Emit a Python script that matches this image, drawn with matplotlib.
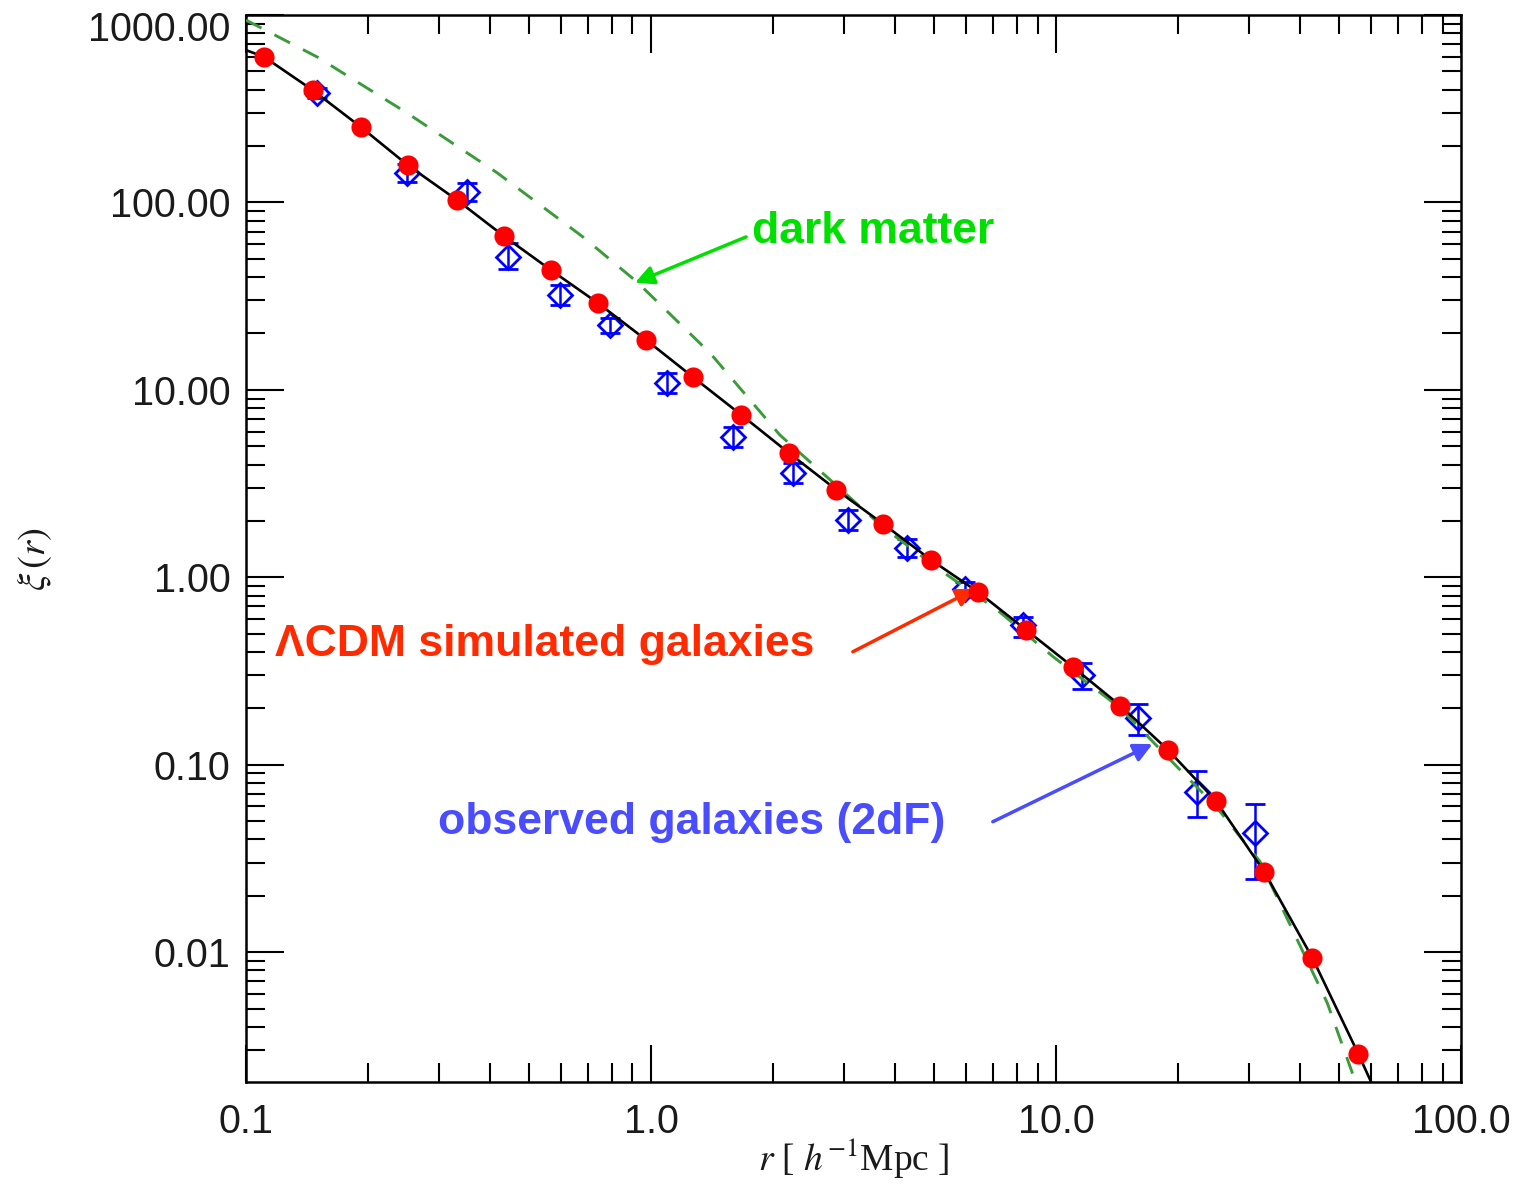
# xi_r_comparison.py
#
# Two-point correlation function xi(r): LCDM simulated galaxies vs. the
# 2dF observed galaxies, with the dark-matter curve for reference.
# Saves out.png.

import matplotlib

matplotlib.use("Agg")
import matplotlib.pyplot as plt
from matplotlib.ticker import FixedLocator, LogLocator, NullFormatter
from matplotlib.transforms import ScaledTranslation

# simulated galaxies (red dots)
sim_r = [0.111, 0.146, 0.192, 0.251, 0.332, 0.434, 0.566, 0.739, 0.972, 1.27,
         1.67, 2.19, 2.87, 3.74, 4.91, 6.41, 8.43, 11.0, 14.4, 18.9,
         24.8, 32.7, 42.9, 55.7]
sim_xi = [597, 398, 253, 158, 103, 66.0, 43.6, 29.1, 18.5, 11.7,
          7.36, 4.61, 2.93, 1.93, 1.24, 0.837, 0.525, 0.333, 0.207, 0.120,
          0.0643, 0.0268, 0.00936, 0.00288]

# observed galaxies, 2dF (blue diamonds) with lower / upper error limits
obs_r = [0.150, 0.250, 0.351, 0.444, 0.596, 0.792, 1.095, 1.594, 2.242, 3.065,
         4.285, 5.96, 8.29, 11.6, 15.9, 22.3, 31.0]
obs_xi = [384, 143.7, 113.8, 51.2, 32.1, 22.2, 10.9, 5.61, 3.61, 2.03,
          1.436, 0.869, 0.558, 0.302, 0.178, 0.0718, 0.0434]
obs_lo = [361, 128.6, 101.9, 44.2, 28.4, 20.1, 9.64, 4.96, 3.19, 1.79,
          1.285, 0.787, 0.482, 0.254, 0.1445, 0.0528, 0.0247]
obs_hi = [408, 160.4, 127.0, 60.8, 36.3, 24.2, 12.3, 6.35, 4.08, 2.29,
          1.60, 0.946, 0.616, 0.350, 0.211, 0.0929, 0.0619]

# model curve through the simulation (black line)
model_r = [0.100, 0.111, 0.146, 0.192, 0.251, 0.332, 0.434, 0.566, 0.739, 0.972,
           1.27, 1.67, 2.19, 2.87, 3.74, 4.91, 6.41, 8.43, 11.0, 14.4,
           18.9, 24.8, 32.7, 42.9, 55.7, 61.5]
model_xi = [650, 597, 398, 253, 158, 103, 66.0, 43.6, 29.1, 18.5,
            11.7, 7.36, 4.61, 2.93, 1.93, 1.24, 0.837, 0.525, 0.333, 0.207,
            0.120, 0.0643, 0.0268, 0.00936, 0.00288, 0.0018]

# dark matter (green dashed)
dm_r = [0.100, 0.150, 0.250, 0.417, 0.679, 0.923, 1.40, 2.08, 2.77, 3.74,
        5.17, 7.15, 9.84, 14.4, 19.9, 24.8, 31.9, 46.7, 53.2, 56.0]
dm_xi = [940, 597, 300, 144, 65.5, 37.7, 15.7, 5.75, 3.31, 1.85,
         1.096, 0.671, 0.377, 0.201, 0.0975, 0.060, 0.0304, 0.00538, 0.00245, 0.0018]

x_ticks = [0.1, 1.0, 10.0, 100.0]
x_tick_labels = ["0.1", "1.0", "10.0", "100.0"]
y_ticks = [0.01, 0.1, 1.0, 10.0, 100.0, 1000.0]
y_tick_labels = ["0.01", "0.10", "1.00", "10.00", "100.00", "1000.00"]

RED = "#ff0000"
BLUE = "#0000ff"
GREEN_LINE = "#3a9b3a"
GREEN_TXT = "#00e000"
RED_TXT = "#ff2a00"
BLUE_TXT = "#4a4cff"

plt.rcParams["mathtext.fontset"] = "stix"

fig = plt.figure(figsize=(15.22, 11.84), dpi=100)
ax = fig.add_axes([0.1616, 0.0861, 0.7984, 0.9012])

yerr = [[v - lo for v, lo in zip(obs_xi, obs_lo)],
        [hi - v for v, hi in zip(obs_xi, obs_hi)]]
ax.errorbar(obs_r, obs_xi, yerr=yerr, fmt="D", ms=12.5, mfc="none", mec=BLUE,
            mew=2, ecolor=BLUE, elinewidth=1.8, capsize=7.5, capthick=1.8, zorder=2)
ax.plot(dm_r, dm_xi, color=GREEN_LINE, lw=2.1, dashes=(6, 5), zorder=3)
ax.plot(model_r, model_xi, color="black", lw=1.9, zorder=4)
ax.plot(sim_r, sim_xi, "o", color=RED, ms=14.5, mec="none", zorder=6)

ax.set_xscale("log")
ax.set_yscale("log")
ax.set_xlim(0.1, 100)
ax.set_ylim(0.00203, 1000)

ax.xaxis.set_major_locator(FixedLocator(x_ticks))
ax.set_xticklabels(x_tick_labels)
ax.yaxis.set_major_locator(FixedLocator(y_ticks))
ax.set_yticklabels(y_tick_labels)
for axis in (ax.xaxis, ax.yaxis):
    axis.set_minor_locator(LogLocator(base=10, subs=range(2, 10), numticks=20))
    axis.set_minor_formatter(NullFormatter())

ax.tick_params(which="both", direction="in", top=True, right=True, width=1.5,
               color="black")
ax.tick_params(which="major", length=27)
ax.tick_params(which="minor", length=14)
ax.tick_params(axis="x", which="major", pad=15)
ax.tick_params(axis="y", which="major", pad=11)
for lab in ax.get_xticklabels() + ax.get_yticklabels():
    lab.set_fontfamily("Liberation Sans")
    lab.set_fontsize(28.5)
    lab.set_color("#1a1a1a")
# the top label sits a little below its tick, as in the original
top_lab = ax.get_yticklabels()[-1]
top_lab.set_transform(top_lab.get_transform()
                      + ScaledTranslation(0, -8 / 72, fig.dpi_scale_trans))
for spine in ax.spines.values():
    spine.set_linewidth(1.8)

ax.set_xlabel(r"$r$ [ $h^{-1}$Mpc ]", fontsize=27, family="Liberation Serif",
              color="#1a1a1a")
ax.xaxis.set_label_coords(0.5, -0.051)
ax.set_ylabel(r"$\xi\,(r)$", fontsize=28, color="#1a1a1a")
ax.yaxis.set_label_coords(-0.158, 0.49)

# annotations: arrows and labels
arrow_kw = dict(arrowstyle="-|>", lw=2.5, mutation_scale=28, shrinkA=0, shrinkB=0)
ax.annotate("", xy=(0.913, 37.3), xytext=(1.717, 65.5),
            arrowprops=dict(color=GREEN_TXT, **arrow_kw), zorder=5)
ax.text(1.774, 69.7, "dark matter", color=GREEN_TXT, fontsize=32,
        fontweight="bold", family="Liberation Sans", va="center", ha="left")

ax.annotate("", xy=(6.31, 0.868), xytext=(3.15, 0.401),
            arrowprops=dict(color=RED_TXT, **arrow_kw), zorder=5)
ax.text(0.118, 0.436, "ΛCDM simulated galaxies", color=RED_TXT, fontsize=32,
        fontweight="bold", family="Liberation Sans", va="center", ha="left")

ax.annotate("", xy=(17.3, 0.129), xytext=(6.98, 0.0497),
            arrowprops=dict(color=BLUE_TXT, **arrow_kw), zorder=5)
ax.text(0.298, 0.0491, "observed galaxies (2dF)", color=BLUE_TXT, fontsize=32,
        fontweight="bold", family="Liberation Sans", va="center", ha="left")

fig.savefig("out.png", dpi=100)
